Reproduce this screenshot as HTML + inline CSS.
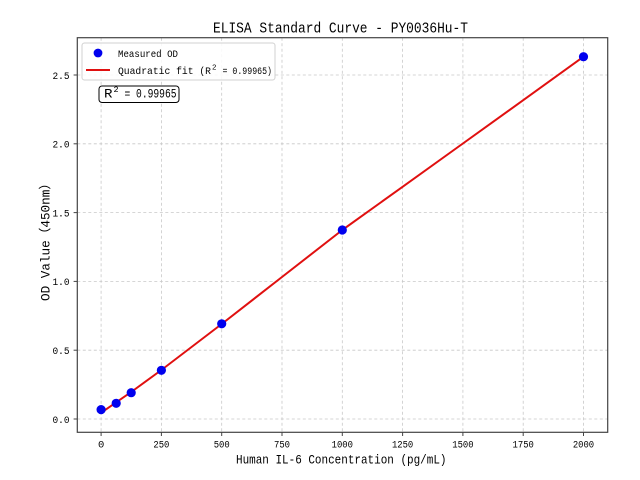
<!DOCTYPE html>
<html>
<head>
<meta charset="utf-8">
<style>
html,body{margin:0;padding:0;background:#fff;}
svg{display:block;}
text{font-family:"Liberation Mono","Noto Sans CJK SC",monospace;fill:#000;}
</style>
</head>
<body>
<svg width="640" height="480" viewBox="0 0 640 480" xmlns="http://www.w3.org/2000/svg">
<rect x="0" y="0" width="640" height="480" fill="#fff"/>
<!-- grid -->
<g stroke="#c8c8c8" stroke-width="0.8" stroke-dasharray="3,2.5" fill="none">
  <line x1="101.1" y1="37.7" x2="101.1" y2="432.3"/>
  <line x1="161.4" y1="37.7" x2="161.4" y2="432.3"/>
  <line x1="221.7" y1="37.7" x2="221.7" y2="432.3"/>
  <line x1="282.0" y1="37.7" x2="282.0" y2="432.3"/>
  <line x1="342.3" y1="37.7" x2="342.3" y2="432.3"/>
  <line x1="402.6" y1="37.7" x2="402.6" y2="432.3"/>
  <line x1="462.9" y1="37.7" x2="462.9" y2="432.3"/>
  <line x1="523.2" y1="37.7" x2="523.2" y2="432.3"/>
  <line x1="583.5" y1="37.7" x2="583.5" y2="432.3"/>
  <line x1="77.3" y1="419.0" x2="607.7" y2="419.0"/>
  <line x1="77.3" y1="350.2" x2="607.7" y2="350.2"/>
  <line x1="77.3" y1="281.4" x2="607.7" y2="281.4"/>
  <line x1="77.3" y1="212.6" x2="607.7" y2="212.6"/>
  <line x1="77.3" y1="143.8" x2="607.7" y2="143.8"/>
  <line x1="77.3" y1="75.0" x2="607.7" y2="75.0"/>
</g>
<!-- fit line -->
<polyline fill="none" stroke="#e01010" stroke-width="2" stroke-linejoin="round"
 points="100.7,413.1 131.2,392.0 161.4,370.0 221.7,324.0 282.0,277.0 342.3,230.0 402.6,186.8 462.9,143.5 523.2,100.2 583.5,56.7"/>
<!-- points -->
<g fill="#0000ee">
  <circle cx="101.1" cy="409.6" r="4.6"/>
  <circle cx="116.2" cy="403.3" r="4.6"/>
  <circle cx="131.2" cy="392.7" r="4.6"/>
  <circle cx="161.4" cy="370.3" r="4.6"/>
  <circle cx="221.7" cy="323.8" r="4.6"/>
  <circle cx="342.3" cy="230.0" r="4.6"/>
  <circle cx="583.5" cy="56.7" r="4.6"/>
</g>
<!-- axes frame -->
<rect x="77.3" y="37.7" width="530.4" height="394.6" fill="none" stroke="#444" stroke-width="1.2"/>
<!-- ticks -->
<g stroke="#444" stroke-width="1">
  <line x1="101.1" y1="432.3" x2="101.1" y2="436"/>
  <line x1="161.4" y1="432.3" x2="161.4" y2="436"/>
  <line x1="221.7" y1="432.3" x2="221.7" y2="436"/>
  <line x1="282.0" y1="432.3" x2="282.0" y2="436"/>
  <line x1="342.3" y1="432.3" x2="342.3" y2="436"/>
  <line x1="402.6" y1="432.3" x2="402.6" y2="436"/>
  <line x1="462.9" y1="432.3" x2="462.9" y2="436"/>
  <line x1="523.2" y1="432.3" x2="523.2" y2="436"/>
  <line x1="583.5" y1="432.3" x2="583.5" y2="436"/>
  <line x1="73.6" y1="419.0" x2="77.3" y2="419.0"/>
  <line x1="73.6" y1="350.2" x2="77.3" y2="350.2"/>
  <line x1="73.6" y1="281.4" x2="77.3" y2="281.4"/>
  <line x1="73.6" y1="212.6" x2="77.3" y2="212.6"/>
  <line x1="73.6" y1="143.8" x2="77.3" y2="143.8"/>
  <line x1="73.6" y1="75.0" x2="77.3" y2="75.0"/>
</g>
<!-- x tick labels -->
<g font-size="10.5" text-anchor="middle">
  <text x="101.1" y="447.7">0</text>
  <text x="161.4" y="447.7" textLength="16" lengthAdjust="spacingAndGlyphs">250</text>
  <text x="221.7" y="447.7" textLength="16" lengthAdjust="spacingAndGlyphs">500</text>
  <text x="282.0" y="447.7" textLength="16" lengthAdjust="spacingAndGlyphs">750</text>
  <text x="342.3" y="447.7" textLength="21.3" lengthAdjust="spacingAndGlyphs">1000</text>
  <text x="402.6" y="447.7" textLength="21.3" lengthAdjust="spacingAndGlyphs">1250</text>
  <text x="462.9" y="447.7" textLength="21.3" lengthAdjust="spacingAndGlyphs">1500</text>
  <text x="523.2" y="447.7" textLength="21.3" lengthAdjust="spacingAndGlyphs">1750</text>
  <text x="583.5" y="447.7" textLength="21.3" lengthAdjust="spacingAndGlyphs">2000</text>
</g>
<!-- y tick labels -->
<g font-size="10.5" text-anchor="end">
  <text x="69.5" y="422.8" textLength="17" lengthAdjust="spacingAndGlyphs">0.0</text>
  <text x="69.5" y="354.0" textLength="17" lengthAdjust="spacingAndGlyphs">0.5</text>
  <text x="69.5" y="285.2" textLength="17" lengthAdjust="spacingAndGlyphs">1.0</text>
  <text x="69.5" y="216.4" textLength="17" lengthAdjust="spacingAndGlyphs">1.5</text>
  <text x="69.5" y="147.6" textLength="17" lengthAdjust="spacingAndGlyphs">2.0</text>
  <text x="69.5" y="78.8" textLength="17" lengthAdjust="spacingAndGlyphs">2.5</text>
</g>
<!-- title -->
<text x="213" y="32.3" font-size="15" textLength="255" lengthAdjust="spacingAndGlyphs">ELISA Standard Curve - PY0036Hu-T</text>
<!-- x label -->
<text x="236" y="463.5" font-size="12.5" textLength="210.5" lengthAdjust="spacingAndGlyphs">Human IL-6 Concentration (pg/mL)</text>
<!-- y label -->
<text transform="translate(49.5,301) rotate(-90)" x="0" y="0" font-size="12.5" textLength="124" lengthAdjust="spacingAndGlyphs">OD Value（450nm）</text>
<!-- legend -->
<rect x="82" y="43" width="193" height="37" rx="2.5" ry="2.5" fill="#fff" fill-opacity="0.85" stroke="#d0d0d0" stroke-width="1"/>
<circle cx="98" cy="53" r="4.4" fill="#0000ee"/>
<line x1="86" y1="70" x2="110" y2="70" stroke="#e01010" stroke-width="2"/>
<text x="118" y="57" font-size="10.5" textLength="60" lengthAdjust="spacingAndGlyphs">Measured OD</text>
<text x="118" y="74" font-size="10.5" textLength="93" lengthAdjust="spacingAndGlyphs">Quadratic fit (R</text>
<text x="212" y="69.5" font-size="7.5">2</text>
<text x="222.5" y="74" font-size="10.5" textLength="49.5" lengthAdjust="spacingAndGlyphs">= 0.99965)</text>
<!-- R2 box -->
<rect x="99" y="86" width="80" height="16.5" rx="3" ry="3" fill="#fff" stroke="#000" stroke-width="1"/>
<text x="104" y="97.5" font-size="12.5" textLength="8.5" lengthAdjust="spacingAndGlyphs">R</text>
<text x="113.5" y="92" font-size="8.5">2</text>
<text x="124.5" y="97.5" font-size="12.5" textLength="52" lengthAdjust="spacingAndGlyphs">= 0.99965</text>
</svg>
</body>
</html>
